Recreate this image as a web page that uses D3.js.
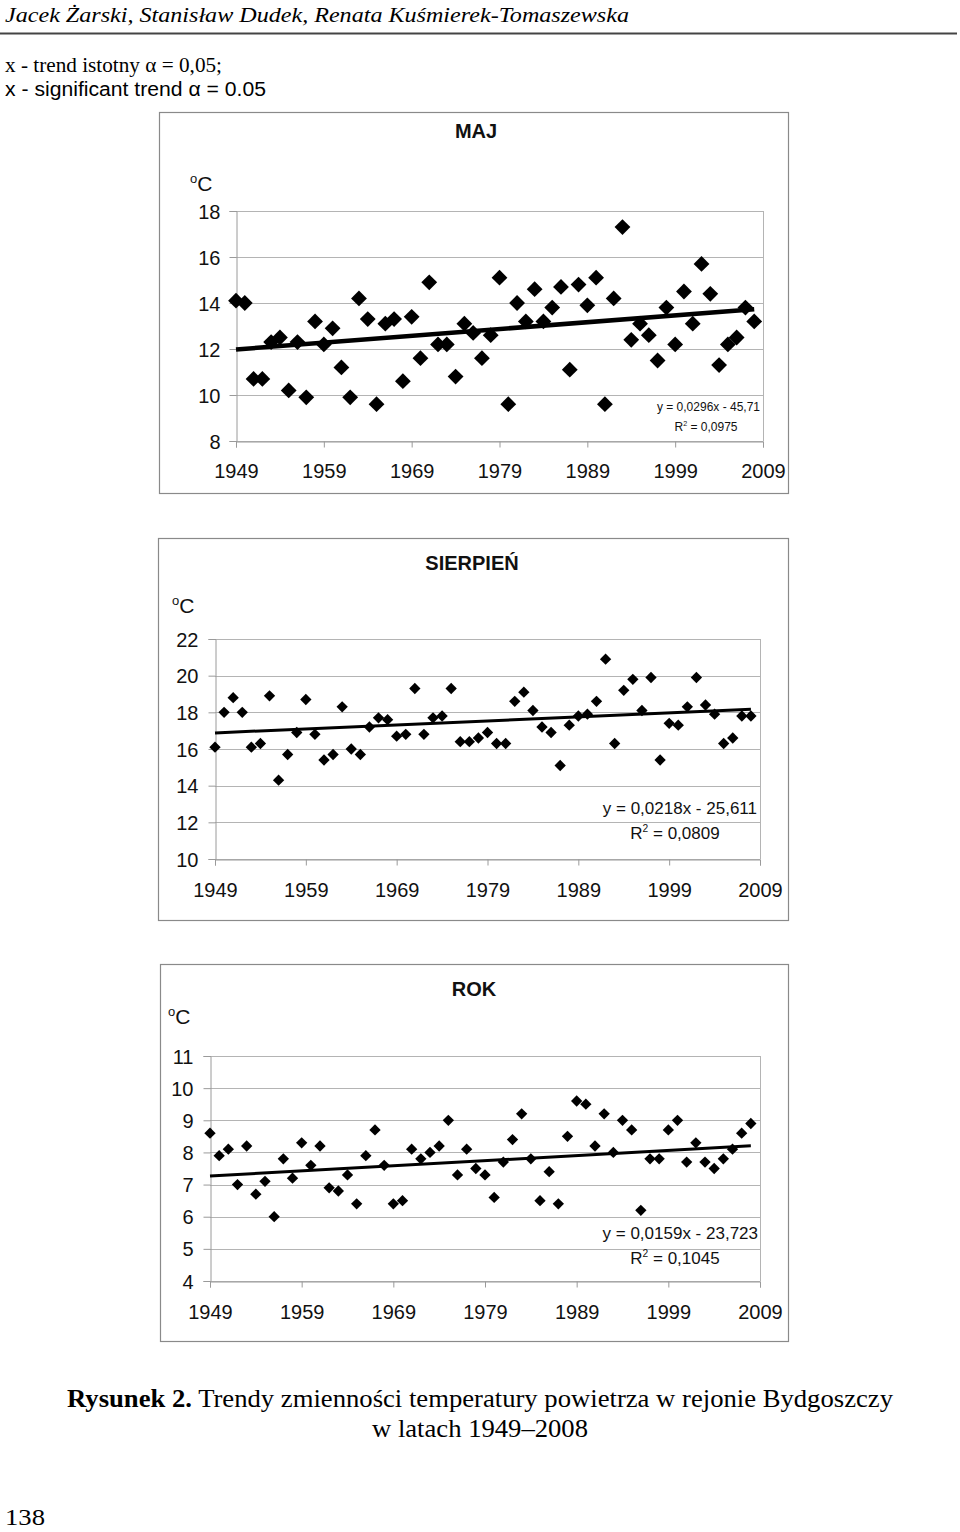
<!DOCTYPE html>
<html><head><meta charset="utf-8">
<script src="https://cdn.jsdelivr.net/npm/d3@7"></script>
<style>body{margin:0;background:#fff} svg{display:block}</style>
</head><body>
<script>
// ---- data ----
const years = [1949,1950,1951,1952,1953,1954,1955,1956,1957,1958,
               1959,1960,1961,1962,1963,1964,1965,1966,1967,1968,
               1969,1970,1971,1972,1973,1974,1975,1976,1977,1978,
               1979,1980,1981,1982,1983,1984,1985,1986,1987,1988,
               1989,1990,1991,1992,1993,1994,1995,1996,1997,1998,
               1999,2000,2001,2002,2003,2004,2005,2006,2007,2008];
const majValues = [14.1,14.0,10.7,10.7,12.3,12.5,10.2,12.3,9.9,13.2,
                   12.2,12.9,11.2,9.9,14.2,13.3,9.6,13.1,13.3,10.6,
                   13.4,11.6,14.9,12.2,12.2,10.8,13.1,12.7,11.6,12.6,
                   15.1,9.6,14.0,13.2,14.6,13.2,13.8,14.7,11.1,14.8,
                   13.9,15.1,9.6,14.2,17.3,12.4,13.1,12.6,11.5,13.8,
                   12.2,14.5,13.1,15.7,14.4,11.3,12.2,12.5,13.8,13.2];
const sierpienValues = [16.1,18.0,18.8,18.0,16.1,16.3,18.9,14.3,15.7,16.9,
                        18.7,16.8,15.4,15.7,18.3,16.0,15.7,17.2,17.7,17.6,
                        16.7,16.8,19.3,16.8,17.7,17.8,19.3,16.4,16.4,16.6,
                        16.9,16.3,16.3,18.6,19.1,18.1,17.2,16.9,15.1,17.3,
                        17.8,17.9,18.6,20.9,16.3,19.2,19.8,18.1,19.9,15.4,
                        17.4,17.3,18.3,19.9,18.4,17.9,16.3,16.6,17.8,17.8];
const rokValues = [8.6,7.9,8.1,7.0,8.2,6.7,7.1,6.0,7.8,7.2,
                   8.3,7.6,8.2,6.9,6.8,7.3,6.4,7.9,8.7,7.6,
                   6.4,6.5,8.1,7.8,8.0,8.2,9.0,7.3,8.1,7.5,
                   7.3,6.6,7.7,8.4,9.2,7.8,6.5,7.4,6.4,8.5,
                   9.6,9.5,8.2,9.2,8.0,9.0,8.7,6.2,7.8,7.8,
                   8.7,9.0,7.7,8.3,7.7,7.5,7.8,8.1,8.6,8.9];
const xTickLabels = [1949,1959,1969,1979,1989,1999,2009];
const majTicks = [8,10,12,14,16,18];
const sierpienTicks = [10,12,14,16,18,20,22];
const rokTicks = [4,5,6,7,8,9,10,11];
const majTrend = [0.0296, -45.71];
const sierpienTrend = [0.0218, -25.611];
const rokTrend = [0.0159, -23.723];
const titles = ["MAJ", "SIERPIEŃ", "ROK"];
const eqTexts = ["y = 0,0296x - 45,71", "y = 0,0218x - 25,611", "y = 0,0159x - 23,723"];
const r2Texts = ["0,0975", "0,0809", "0,1045"];

const SANS = "'Liberation Sans', Arial, sans-serif";
const SERIF = "'Liberation Serif', 'Times New Roman', serif";

const svg = d3.select("body").append("svg").attr("width", 960).attr("height", 1532);

// ---- page header ----
svg.append("text").attr("x", 5).attr("y", 22)
  .attr("font-family", SERIF).attr("font-style", "italic").attr("font-size", 22)
  .attr("textLength", 624).attr("lengthAdjust", "spacingAndGlyphs")
  .text("Jacek Żarski, Stanisław Dudek, Renata Kuśmierek-Tomaszewska");
svg.append("line").attr("x1", 0).attr("x2", 957).attr("y1", 33.5).attr("y2", 33.5)
  .attr("stroke", "#444").attr("stroke-width", 2);
svg.append("text").attr("x", 5).attr("y", 72)
  .attr("font-family", SERIF).attr("font-size", 20)
  .attr("textLength", 217).attr("lengthAdjust", "spacingAndGlyphs")
  .text("x - trend istotny α = 0,05;");
svg.append("text").attr("x", 5).attr("y", 96)
  .attr("font-family", "'Liberation Sans Narrow', " + SANS).attr("font-size", 20)
  .attr("textLength", 261).attr("lengthAdjust", "spacingAndGlyphs")
  .text("x - significant trend α = 0.05");

// ---- chart function ----
function drawChart(o) {
  const g = svg.append("g");
  g.append("rect").attr("x", o.frame[0] + 0.5).attr("y", o.frame[1] + 0.5)
    .attr("width", o.frame[2]).attr("height", o.frame[3])
    .attr("fill", "#fff").attr("stroke", "#8a8a8a").attr("stroke-width", 1.2);

  const x = d3.scaleLinear().domain([1949, 2009]).range([o.plot.l, o.plot.r]);
  const y = d3.scaleLinear().domain(d3.extent(o.ticks)).range([o.plot.b, o.plot.t]);

  // gridlines
  g.selectAll(".grid").data(o.ticks).enter().append("line")
    .attr("x1", o.plot.l).attr("x2", o.plot.r)
    .attr("y1", d => Math.round(y(d)) + 0.5).attr("y2", d => Math.round(y(d)) + 0.5)
    .attr("stroke", "#b4b4b4").attr("stroke-width", 1);
  // right border of plot area
  g.append("line").attr("x1", o.plot.r + 0.5).attr("x2", o.plot.r + 0.5)
    .attr("y1", y(o.ticks[o.ticks.length - 1])).attr("y2", o.plot.b)
    .attr("stroke", "#b4b4b4");

  // y axis
  const yAxis = d3.axisLeft(y).tickValues(o.ticks).tickSize(7).tickFormat(d3.format("d"));
  const ya = g.append("g").attr("transform", `translate(${o.plot.l + 0.5},0)`).call(yAxis);
  ya.select(".domain").attr("stroke", "#9a9a9a");
  ya.selectAll(".tick line").attr("stroke", "#9a9a9a");
  ya.selectAll(".tick text").attr("font-family", SANS).attr("font-size", 20)
    .attr("fill", "#111").attr("x", -(o.plot.l - o.labelRight)).attr("dy", "0.35em");

  // x axis
  const xAxis = d3.axisBottom(x).tickValues(xTickLabels).tickSize(6).tickFormat(d3.format("d"));
  const xa = g.append("g").attr("transform", `translate(0,${o.plot.b + 0.5})`).call(xAxis);
  xa.select(".domain").attr("stroke", "#9a9a9a");
  xa.selectAll(".tick line").attr("stroke", "#9a9a9a");
  xa.selectAll(".tick text").attr("font-family", SANS).attr("font-size", 20)
    .attr("fill", "#111").attr("y", o.xLabelBase - o.plot.b).attr("dy", 0);

  // title
  g.append("text").attr("x", o.titleX).attr("y", o.titleY).attr("text-anchor", "middle")
    .attr("font-family", SANS).attr("font-weight", "bold").attr("font-size", 20)
    .attr("fill", "#111").text(o.title);
  // unit
  const u = g.append("text").attr("x", o.unitX).attr("y", o.unitY)
    .attr("font-family", SANS).attr("font-size", 21).attr("fill", "#111");
  u.append("tspan").attr("font-size", 13).attr("dy", -8).text("o");
  u.append("tspan").attr("dy", 8).text("C");

  // points
  const sym = d3.symbol().type(d3.symbolSquare).size(o.symSize);
  g.selectAll(".pt").data(o.values).enter().append("path")
    .attr("d", sym)
    .attr("transform", (d, i) => `translate(${x(years[i])},${y(d)}) rotate(45)`)
    .attr("fill", "#000");

  // trend line
  const yr0 = years[0], yr1 = years[years.length - 1];
  const trendPts = [yr0, yr1].map(t => [t, o.trend[0] * t + o.trend[1]]);
  g.append("path").datum(trendPts)
    .attr("d", d3.line().x(d => x(d[0])).y(d => y(d[1])))
    .attr("stroke", "#000").attr("stroke-width", o.lineW).attr("fill", "none");

  // equation
  g.append("text").attr("x", o.eqX).attr("y", o.eqY).attr("text-anchor", "end")
    .attr("font-family", SANS).attr("font-size", o.eqFont).attr("fill", "#111").text(o.eq);
  const r = g.append("text").attr("x", o.r2X).attr("y", o.r2Y).attr("text-anchor", "middle")
    .attr("font-family", SANS).attr("font-size", o.eqFont).attr("fill", "#111");
  r.append("tspan").text("R");
  r.append("tspan").attr("font-size", o.eqFont * 0.6).attr("dy", -o.eqFont * 0.4).text("2");
  r.append("tspan").attr("dy", o.eqFont * 0.4).text(" = " + o.r2);
}

drawChart({
  frame: [159, 112, 629, 381], plot: {l: 236, r: 763, t: 211, b: 441},
  ticks: majTicks, values: majValues, trend: majTrend, title: titles[0],
  titleX: 476, titleY: 138, unitX: 190, unitY: 191, labelRight: 220, xLabelBase: 477,
  symSize: 125, lineW: 4.5, eq: eqTexts[0], r2: r2Texts[0],
  eqX: 760, eqY: 411, r2X: 706, r2Y: 431, eqFont: 12
});
drawChart({
  frame: [158, 538, 630, 382], plot: {l: 215, r: 760, t: 639, b: 859},
  ticks: sierpienTicks, values: sierpienValues, trend: sierpienTrend, title: titles[1],
  titleX: 472, titleY: 570, unitX: 172, unitY: 613, labelRight: 198, xLabelBase: 896,
  symSize: 64, lineW: 3, eq: eqTexts[1], r2: r2Texts[1],
  eqX: 757, eqY: 814, r2X: 675, r2Y: 839, eqFont: 17
});
drawChart({
  frame: [160, 964, 628, 377], plot: {l: 210, r: 760, t: 1056, b: 1281},
  ticks: rokTicks, values: rokValues, trend: rokTrend, title: titles[2],
  titleX: 474, titleY: 996, unitX: 168, unitY: 1024, labelRight: 193, xLabelBase: 1318,
  symSize: 64, lineW: 3, eq: eqTexts[2], r2: r2Texts[2],
  eqX: 758, eqY: 1239, r2X: 675, r2Y: 1264, eqFont: 17
});

// ---- caption ----
const cap = svg.append("text").attr("x", 480).attr("y", 1407).attr("text-anchor", "middle")
  .attr("font-family", SERIF).attr("font-size", 25)
  .attr("textLength", 826).attr("lengthAdjust", "spacingAndGlyphs");
cap.append("tspan").attr("font-weight", "bold").text("Rysunek 2.");
cap.append("tspan").text(" Trendy zmienności temperatury powietrza w rejonie Bydgoszczy");
svg.append("text").attr("x", 480).attr("y", 1437).attr("text-anchor", "middle")
  .attr("font-family", SERIF).attr("font-size", 25)
  .attr("textLength", 216).attr("lengthAdjust", "spacingAndGlyphs")
  .text("w latach 1949–2008");
svg.append("text").attr("x", 5).attr("y", 1525)
  .attr("font-family", SERIF).attr("font-size", 24)
  .attr("textLength", 40).attr("lengthAdjust", "spacingAndGlyphs")
  .text("138");
</script>
</body></html>
